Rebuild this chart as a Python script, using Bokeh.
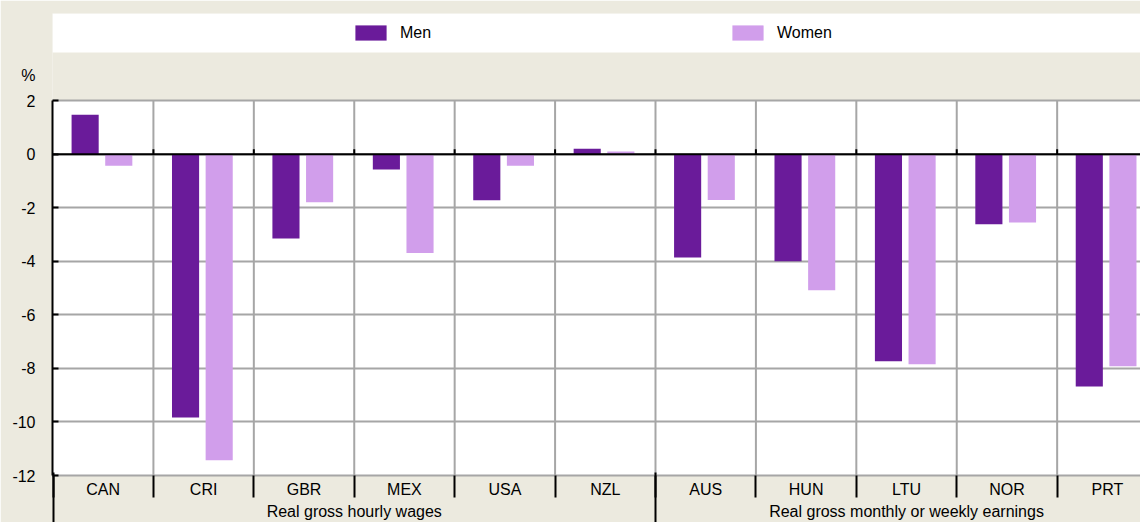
from bokeh.plotting import figure
from bokeh.models import FixedTicker, LinearAxis, Range1d, BoxAnnotation, Span
from bokeh.embed import file_html
from bokeh.resources import INLINE

# ---- data ----
categories = ["CAN", "CRI", "GBR", "MEX", "USA", "NZL", "AUS", "HUN", "LTU", "NOR", "PRT"]
men = [1.48, -9.83, -3.15, -0.57, -1.72, 0.21, -3.86, -4.0, -7.73, -2.61, -8.68]
women = [-0.43, -11.43, -1.79, -3.69, -0.43, 0.1, -1.71, -5.08, -7.84, -2.55, -7.92]
group_labels = ["Real gross hourly wages", "Real gross monthly or weekly earnings"]
group_sizes = [6, 5]
y_ticks = [-12, -10, -8, -6, -4, -2, 0, 2]
y_unit = "%"

# ---- style ----
BG = "#ECEADF"
MEN_C = "#6A1B9A"
WOMEN_C = "#D19EEB"
GRID_C = "#A6A6A6"
FONT = "Liberation Sans"
FS = "16px"

n = len(categories)
centers = [i + 0.5 for i in range(n)]
bounds = list(range(n + 1))
inner_bounds = bounds[1:-1]
group_bounds = [0]
for s in group_sizes:
    group_bounds.append(group_bounds[-1] + s)
group_centers = [(group_bounds[i] + group_bounds[i + 1]) / 2 for i in range(len(group_sizes))]

ymin, ymax = min(y_ticks), max(y_ticks)
unit_pos = ymax + 0.93

p = figure(width=1140, height=522, output_backend="svg", toolbar_location=None,
           x_range=Range1d(-0.005, 10.83), y_range=Range1d(ymin, 5.258),
           min_border_left=52, min_border_right=0, min_border_top=13, min_border_bottom=0,
           background_fill_color=BG, border_fill_color=BG, outline_line_color=None,
           x_axis_location=None)

# white plotting area and legend strip
p.add_layout(BoxAnnotation(bottom=ymin, top=ymax, fill_color="white", fill_alpha=1,
                           line_color=None, level="image"))
p.add_layout(BoxAnnotation(bottom=3.80, fill_color="white", fill_alpha=1,
                           line_color=None, level="image"))

# grids
p.xgrid.visible = False
p.ygrid.ticker = FixedTicker(ticks=y_ticks)
p.ygrid.grid_line_color = GRID_C
p.ygrid.grid_line_width = 2
p.segment(x0=inner_bounds, y0=[ymin] * len(inner_bounds), x1=inner_bounds,
          y1=[ymax] * len(inner_bounds), line_color=GRID_C, line_width=2)

# bars
p.vbar(x=[c - 0.18 for c in centers], top=men, bottom=0, width=0.27,
       fill_color=MEN_C, line_color=None, legend_label="Men")
p.vbar(x=[c + 0.155 for c in centers], top=women, bottom=0, width=0.27,
       fill_color=WOMEN_C, line_color=None, legend_label="Women")

# zero line with small ticks
p.add_layout(Span(location=0, dimension="width", line_color="black", line_width=2))
p.segment(x0=inner_bounds, y0=[0] * len(inner_bounds), x1=inner_bounds,
          y1=[0.19] * len(inner_bounds), line_color="black", line_width=2)

# y axis
ya = p.yaxis[0]
ya.ticker = FixedTicker(ticks=y_ticks)
ya.major_label_overrides = {t: str(t) for t in y_ticks}
ya.bounds = (ymin, ymax)
ya.axis_line_color = "black"
ya.axis_line_width = 2
ya.major_tick_in = 6
ya.major_tick_out = 0
ya.major_tick_line_color = "black"
ya.major_tick_line_width = 2
ya.minor_tick_line_color = None
ya.major_label_standoff = 17
ya.major_label_text_font = FONT
ya.major_label_text_font_size = FS
ya.major_label_text_color = "black"

# unit label "%" as a second left axis
ua = LinearAxis(ticker=FixedTicker(ticks=[unit_pos]),
                major_label_overrides={unit_pos: y_unit},
                axis_line_color=None, major_tick_line_color=None, minor_tick_line_color=None,
                major_tick_in=0, major_tick_out=0, minor_tick_in=0, minor_tick_out=0,
                major_label_standoff=-26, major_label_text_font=FONT,
                major_label_text_font_size=FS, major_label_text_color="black")
p.add_layout(ua, "left")

# category axis
xa = LinearAxis(ticker=FixedTicker(ticks=centers, minor_ticks=bounds),
                major_label_overrides={c: lab for c, lab in zip(centers, categories)},
                major_tick_line_color=None, major_tick_in=0, major_tick_out=0,
                minor_tick_in=0, minor_tick_out=22, minor_tick_line_color="black",
                minor_tick_line_width=2, axis_line_color=GRID_C, axis_line_width=2,
                major_label_standoff=-17, major_label_text_font=FONT,
                major_label_text_font_size=FS, major_label_text_color="black")
p.add_layout(xa, "below")

# group axis
ga = LinearAxis(ticker=FixedTicker(ticks=group_centers, minor_ticks=group_bounds[:-1]),
                major_label_overrides={c: lab for c, lab in zip(group_centers, group_labels)},
                major_tick_line_color=None, major_tick_in=0, major_tick_out=0,
                minor_tick_in=28, minor_tick_out=25, minor_tick_line_color="black",
                minor_tick_line_width=2, axis_line_color=None,
                major_label_standoff=-23, major_label_text_font=FONT,
                major_label_text_font_size=FS, major_label_text_color="black")
p.add_layout(ga, "below")

# legend
lg = p.legend[0]
lg.location = "top_center"
lg.orientation = "horizontal"
lg.margin = 10
lg.padding = 0
lg.spacing = 264
lg.glyph_width = 39
lg.glyph_height = 19
lg.label_width = 64
lg.label_height = 19
lg.label_standoff = 10
lg.label_text_font = FONT
lg.label_text_font_size = FS
lg.label_text_color = "black"
lg.background_fill_alpha = 0
lg.border_line_color = None

open("out.html", "w").write(file_html(p, INLINE))
